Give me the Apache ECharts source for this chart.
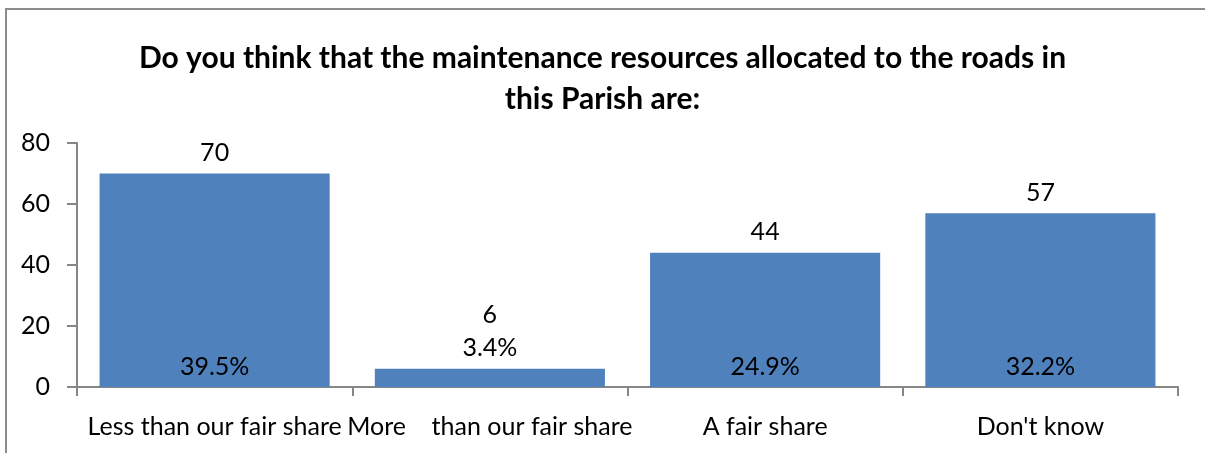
<!DOCTYPE html>
<html>
<head>
<meta charset="utf-8">
<script src="https://cdn.jsdelivr.net/npm/echarts@6/dist/echarts.min.js"></script>
<style>
  html, body { margin: 0; padding: 0; background: #fff; }
  #chart { width: 1205px; height: 453px; }
</style>
</head>
<body>
<div id="chart"></div>
<script>
var categories = ['Less than our fair share', 'More    than our fair share', 'A fair share', "Don't know"]
var counts = [70, 6, 44, 57]
var percents = ['39.5%', '3.4%', '24.9%', '32.2%']
var yTicks = [0, 20, 40, 60, 80]

var font = 'Lato, "Liberation Sans", sans-serif'
var barColor = '#4F81BD'
var axisGray = '#868686'

var chart = echarts.init(document.getElementById('chart'))

chart.setOption({
  animation: false,
  title: {
    text: 'Do you think that the maintenance resources allocated to the roads in\nthis Parish are:',
    left: 'center',
    top: 33,
    textStyle: {
      fontFamily: font,
      fontSize: 30,
      fontWeight: 'bold',
      color: '#000',
      lineHeight: 41
    }
  },
  graphic: [
    {
      type: 'rect',
      shape: { x: 6, y: 9, width: 1400, height: 600 },
      style: { fill: 'none', stroke: '#8c8c8c', lineWidth: 2 },
      silent: true
    }
  ],
  grid: { left: 77, right: 27, top: 143, bottom: 66 },
  xAxis: {
    type: 'category',
    data: categories,
    axisLine: { lineStyle: { color: axisGray, width: 2 } },
    axisTick: { show: true, length: 9, lineStyle: { color: axisGray, width: 2 } },
    axisLabel: {
      fontFamily: font,
      fontSize: 25,
      color: '#000',
      margin: 27,
      interval: 0
    }
  },
  yAxis: {
    type: 'value',
    min: yTicks[0],
    max: yTicks[yTicks.length - 1],
    interval: 20,
    splitLine: { show: false },
    axisLine: { show: true, lineStyle: { color: axisGray, width: 2 } },
    axisTick: { show: true, length: 10, lineStyle: { color: axisGray, width: 2 } },
    axisLabel: {
      fontFamily: font,
      fontSize: 25,
      color: '#000',
      margin: 27
    }
  },
  series: [
    {
      name: 'count',
      type: 'bar',
      barWidth: '83.6%',
      data: counts,
      itemStyle: { color: barColor },
      label: {
        show: true,
        position: 'top',
        distance: 4,
        fontFamily: font,
        fontSize: 25,
        color: '#000',
        lineHeight: 33,
        // small bar: put the percentage above, under the count
        formatter: function(p) {
          if (p.value < 10) return p.value + '\n' + percents[p.dataIndex]
          return String(p.value)
        }
      }
    },
    {
      name: 'percent',
      type: 'bar',
      barWidth: '83.6%',
      barGap: '-100%',
      data: counts,
      silent: true,
      itemStyle: { color: 'rgba(0,0,0,0)' },
      label: {
        show: true,
        position: 'insideBottom',
        distance: 6,
        fontFamily: font,
        fontSize: 25,
        color: '#000',
        lineHeight: 28,
        formatter: function(p) {
          return p.value < 10 ? '' : percents[p.dataIndex]
        }
      }
    }
  ]
})
</script>
</body>
</html>
